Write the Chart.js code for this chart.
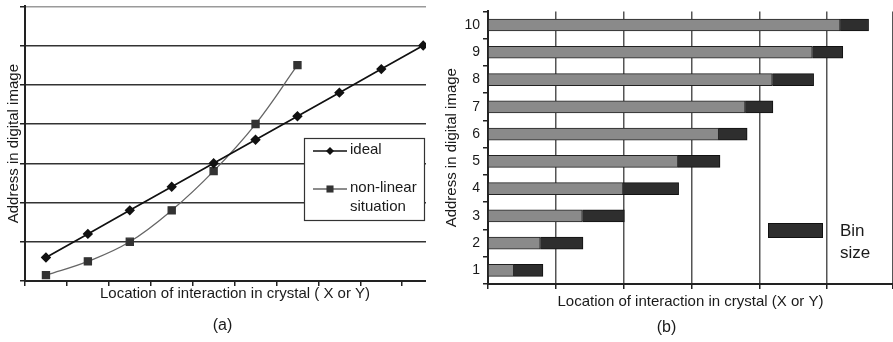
<!DOCTYPE html>
<html><head><meta charset="utf-8">
<script src="https://cdn.jsdelivr.net/npm/chart.js@4"></script>
<style>
html,body{margin:0;padding:0;background:#fff;width:893px;height:342px;overflow:hidden;}
#wa{position:absolute;left:0;top:0;width:426px;height:342px;overflow:hidden;}
#wb{position:absolute;left:440px;top:0;width:453px;height:342px;overflow:hidden;}
canvas{display:block}
</style></head><body>
<div id="wa"><canvas id="ca" width="460" height="342"></canvas></div>
<div id="wb"><canvas id="cb" width="480" height="342"></canvas></div>
<script>
// ---- data (a)
const locationsA = [1, 2, 3, 4, 5, 6, 7, 8, 9, 10];
const idealValues = [0.6, 1.2, 1.8, 2.4, 3.0, 3.6, 4.2, 4.8, 5.4, 6.0];
const nonLinearValues = [0.15, 0.5, 1.0, 1.8, 2.8, 4.0, 5.5];
const xTickValuesA = [0.5, 1.5, 2.5, 3.5, 4.5, 5.5, 6.5, 7.5, 8.5, 9.5];
const seriesLabelsA = ['ideal', 'non-linear situation'];
// ---- data (b)
const addresses = ['1', '2', '3', '4', '5', '6', '7', '8', '9', '10'];
const binStart = [0.38, 0.77, 1.39, 1.99, 2.80, 3.40, 3.79, 4.19, 4.78, 5.19];
const binEnd   = [0.81, 1.40, 2.01, 2.81, 3.42, 3.82, 4.20, 4.80, 5.23, 5.61];

const FONT = "'Liberation Sans', Arial, Helvetica, sans-serif";
Chart.defaults.font.family = FONT;
Chart.defaults.color = '#1a1a1a';

const legendA = {
  id: 'legendA',
  afterDraw(chart) {
    const ctx = chart.ctx;
    const x0 = 304, y0 = 138, w = 120, h = 82;
    ctx.save();
    ctx.fillStyle = '#fff';
    ctx.fillRect(x0, y0, w, h);
    ctx.strokeStyle = '#333';
    ctx.lineWidth = 1.2;
    ctx.strokeRect(x0 + 0.5, y0 + 0.5, w, h);
    const rows = [151, 189];
    chart.data.datasets.forEach((ds, i) => {
      const y = rows[i];
      ctx.strokeStyle = ds.borderColor;
      ctx.lineWidth = ds.borderWidth;
      ctx.beginPath(); ctx.moveTo(x0 + 9, y); ctx.lineTo(x0 + 43, y); ctx.stroke();
      ctx.fillStyle = ds.pointBackgroundColor || ds.backgroundColor;
      Chart.helpers.drawPoint(ctx, {pointStyle: ds.pointStyle, radius: ds.pointRadius, borderWidth: 0}, x0 + 26, y);
      ctx.fillStyle = '#1a1a1a';
      ctx.font = '15px ' + FONT;
      ctx.textBaseline = 'middle';
      const parts = i === 0 ? [ds.label] : ['non-linear', 'situation'];
      parts.forEach((p, k) => ctx.fillText(p, x0 + 46, y - 1 + k * 19));
    });
    ctx.restore();
  }
};

new Chart(document.getElementById('ca'), {
  type: 'line',
  data: {
    datasets: [
      {label: seriesLabelsA[0], data: locationsA.map((x, i) => ({x, y: idealValues[i]})),
       borderColor: '#111', backgroundColor: '#111', pointBackgroundColor: '#111', pointBorderColor: '#111',
       borderWidth: 1.7, pointStyle: 'rectRot', pointRadius: 4, tension: 0},
      {label: seriesLabelsA[1], data: nonLinearValues.map((y, i) => ({x: locationsA[i], y})),
       borderColor: '#666', backgroundColor: '#333', pointBackgroundColor: '#333', pointBorderColor: '#333',
       borderWidth: 1.3, pointStyle: 'rect', pointRadius: 5, tension: 0.4}
    ]
  },
  options: {
    responsive: false, animation: false,
    layout: {padding: {top: 5, left: 0, right: 15, bottom: 7}},
    plugins: {
      legend: {display: false}, tooltip: {enabled: false},
      title: {display: true, position: 'bottom', text: '(a)', color: '#1a1a1a', font: {size: 16, weight: 'normal'}, padding: 0}
    },
    scales: {
      x: {type: 'linear', min: 0.5, max: 10.52,
          afterBuildTicks: s => { s.ticks = xTickValuesA.map(v => ({value: v})); },
          afterFit: s => { s.height = 34.8; },
          ticks: {display: false},
          grid: {drawOnChartArea: false, tickLength: 5, tickColor: '#222', lineWidth: 1.5},
          border: {color: '#222', width: 2},
          title: {display: true, text: 'Location of interaction in crystal ( X or Y)', color: '#1a1a1a', font: {size: 15}, padding: {top: 0, bottom: 13.4}}},
      y: {min: 0, max: 7,
          ticks: {display: false, stepSize: 1},
          afterFit: s => { s.width = 25; },
          grid: {color: c => (c.tick && c.tick.value === 7) ? '#9a9a9a' : '#333', lineWidth: 1.5, tickLength: 5, tickColor: '#222'},
          border: {color: '#222', width: 2},
          title: {display: true, text: 'Address in digital image', color: '#1a1a1a', font: {size: 15}, padding: {top: 5, bottom: 0}}}
    }
  },
  plugins: [legendA]
});

const legendB = {
  id: 'legendB',
  afterDraw(chart) {
    const ctx = chart.ctx;
    const ds = chart.data.datasets[1];
    const x0 = 328, y0 = 223;
    ctx.save();
    ctx.fillStyle = ds.backgroundColor;
    ctx.strokeStyle = ds.borderColor;
    ctx.lineWidth = 1;
    ctx.fillRect(x0, y0, 55, 15);
    ctx.strokeRect(x0 + 0.5, y0 + 0.5, 54, 14);
    ctx.fillStyle = '#1a1a1a';
    ctx.font = '17px ' + FONT;
    ctx.textBaseline = 'middle';
    ds.label.split(' ').forEach((p, k) => ctx.fillText(p, x0 + 72, y0 + 8 + k * 22));
    ctx.restore();
  }
};

new Chart(document.getElementById('cb'), {
  type: 'bar',
  data: {
    labels: addresses,
    datasets: [
      {label: 'position', data: binStart, backgroundColor: '#8a8a8a', borderColor: '#222', borderWidth: 1,
       barThickness: 12, grouped: false, order: 2},
      {label: 'Bin size', data: binStart.map((s, i) => [s, binEnd[i]]), backgroundColor: '#2e2e2e', borderColor: '#111', borderWidth: 1,
       barThickness: 12, grouped: false, order: 1}
    ]
  },
  options: {
    indexAxis: 'y', responsive: false, animation: false,
    layout: {padding: {top: 5, left: 0, right: 27, bottom: 4.4}},
    plugins: {
      legend: {display: false}, tooltip: {enabled: false},
      title: {display: true, position: 'bottom', text: '(b)', color: '#1a1a1a', font: {size: 16, weight: 'normal'}, padding: 0}
    },
    scales: {
      x: {type: 'linear', min: 0, max: 5.97,
          ticks: {display: false, stepSize: 1},
          afterFit: s => { s.height = 34.4; },
          grid: {color: '#555', lineWidth: 1.5, tickLength: 5, tickColor: '#222'},
          border: {color: '#222', width: 2},
          title: {display: true, text: 'Location of interaction in crystal (X or Y)', color: '#1a1a1a', font: {size: 15}, padding: {top: 0, bottom: 7.4}}},
      y: {reverse: true,
          ticks: {color: '#1a1a1a', font: {size: 14}, padding: 3},
          afterFit: s => { s.width = 48; },
          grid: {offset: true, color: c => c.index === addresses.length ? '#9a9a9a' : 'rgba(0,0,0,0)', lineWidth: 1.5, tickLength: 5, tickColor: '#222'},
          border: {color: '#222', width: 2},
          title: {display: true, text: 'Address in digital image', color: '#1a1a1a', font: {size: 15}, padding: {top: 3, bottom: 0}}}
    }
  },
  plugins: [legendB]
});
</script>
</body></html>
